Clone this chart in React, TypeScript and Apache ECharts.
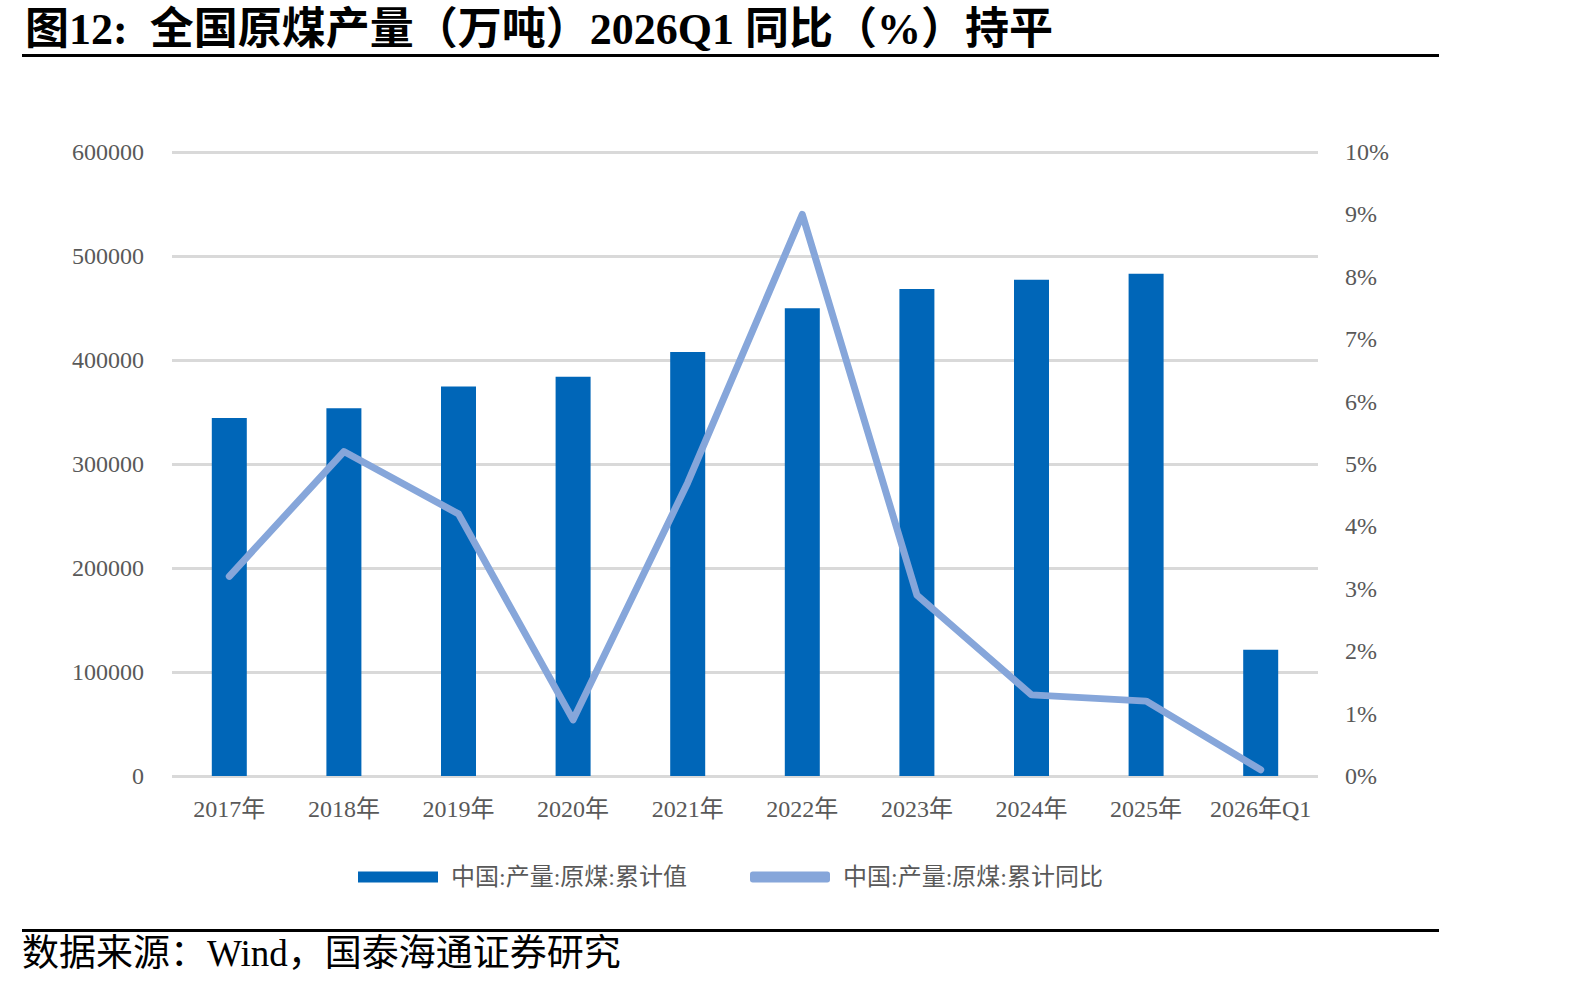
import React, { useEffect, useRef } from "react";
import * as echarts from "echarts";

const categories = ["2017年", "2018年", "2019年", "2020年", "2021年", "2022年", "2023年", "2024年", "2025年", "2026年Q1"];
const outputValues = [344300, 353500, 374500, 383800, 407700, 449800, 468300, 477100, 483000, 121400];
const yoyValues = [3.2, 5.2, 4.2, 0.9, 4.7, 9.0, 2.9, 1.3, 1.2, 0.1];
const seriesNames = ["中国:产量:原煤:累计值", "中国:产量:原煤:累计同比"];
const titleText = "图12:  全国原煤产量（万吨）2026Q1 同比（%）持平";
const sourceText = "数据来源：Wind，国泰海通证券研究";

const FONT = '"Liberation Serif", "Times New Roman", "Noto Sans CJK SC", serif';

export default function App() {
  const ref = useRef<HTMLDivElement>(null);
  useEffect(() => {
    document.body.style.margin = "0";
    const chart = echarts.init(ref.current!, null, { renderer: "svg" });
    chart.setOption({
      animation: false,
      backgroundColor: "#ffffff",
      textStyle: { fontFamily: FONT },
      title: {
        text: titleText,
        left: 20,
        top: 2,
        textStyle: { fontSize: 44, fontWeight: "bold", color: "#000", fontFamily: FONT },
      },
      graphic: [
        { type: "rect", shape: { x: 22, y: 54, width: 1417, height: 3 }, style: { fill: "#000" } },
        { type: "rect", shape: { x: 22, y: 929, width: 1417, height: 3 }, style: { fill: "#000" } },
        {
          type: "text",
          left: 22,
          top: 935,
          style: { text: sourceText, fontSize: 37, fill: "#000", fontFamily: FONT },
        },
      ],
      legend: {
        left: 353,
        top: 860,
        itemGap: 63,
        itemWidth: 80,
        itemHeight: 11,
        textStyle: { fontSize: 24, color: "#595959", fontFamily: FONT, padding: [0, 0, 0, 8] },
        data: [
          { name: seriesNames[0], icon: "rect" },
          { name: seriesNames[1], icon: "roundRect" },
        ],
      },
      grid: { left: 172, right: 274, top: 152, bottom: 212, containLabel: false },
      xAxis: {
        type: "category",
        data: categories,
        axisLine: { show: false },
        axisTick: { show: false },
        axisLabel: { color: "#595959", fontSize: 24, margin: 21, interval: 0, fontFamily: FONT },
      },
      yAxis: [
        {
          type: "value",
          min: 0,
          max: 600000,
          interval: 100000,
          axisLine: { show: false },
          axisTick: { show: false },
          axisLabel: {
            color: "#595959",
            fontSize: 24,
            margin: 28,
            fontFamily: FONT,
            formatter: (v: number) => String(v),
          },
          splitLine: { lineStyle: { color: "#d9d9d9", width: 3 } },
        },
        {
          type: "value",
          min: 0,
          max: 10,
          interval: 1,
          axisLine: { show: false },
          axisTick: { show: false },
          axisLabel: { color: "#595959", fontSize: 24, margin: 27, formatter: "{value}%", fontFamily: FONT },
          splitLine: { show: false },
        },
      ],
      series: [
        {
          name: seriesNames[0],
          type: "bar",
          data: outputValues,
          barWidth: 35,
          itemStyle: { color: "#0066B8" },
        },
        {
          name: seriesNames[1],
          type: "line",
          yAxisIndex: 1,
          data: yoyValues,
          symbol: "none",
          lineStyle: { color: "#86A6DA", width: 7, cap: "round", join: "round" },
          itemStyle: { color: "#86A6DA" },
        },
      ],
    });
    return () => chart.dispose();
  }, []);
  return <div ref={ref} style={{ position: "fixed", left: 0, top: 0, width: 1592, height: 988 }} />;
}
